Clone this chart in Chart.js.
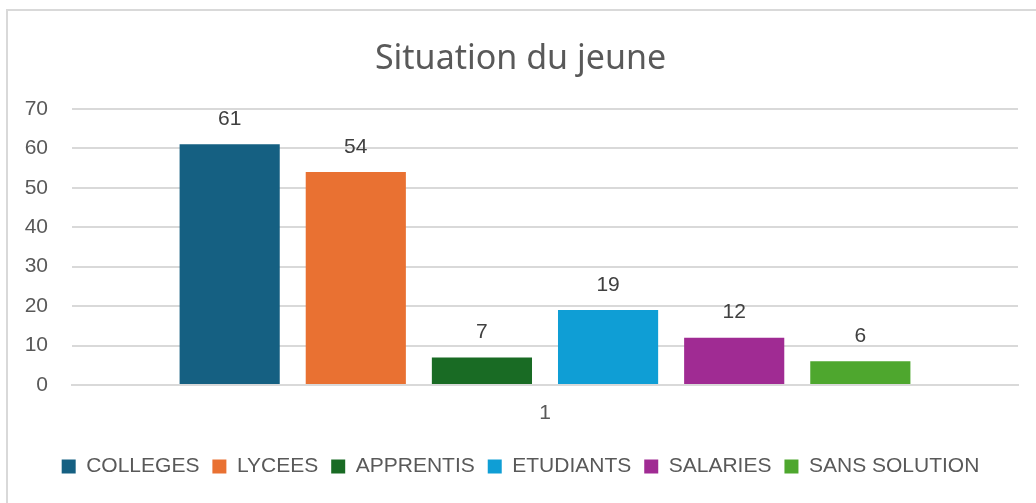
<!DOCTYPE html>
<html>
<head>
<meta charset="utf-8">
<script src="https://cdn.jsdelivr.net/npm/chart.js@4"></script>
<style>
    html, body { margin: 0; padding: 0; background: #fff; overflow: hidden; }
    #wrap { position: relative; width: 1036px; height: 503px; }
    #cadre { position: absolute; left: 6px; top: 9px; width: 1100px; height: 600px; border: 2px solid #d9d9d9; box-sizing: border-box; }
    #report { position: absolute; left: 0; top: 0; }
</style>
</head>
<body>
<div id="wrap">
    <div id="cadre"></div>
    <canvas id="report" width="1036" height="503"></canvas>
</div>
<script>
// données
const categories = ['1'];
const series = ['COLLEGES', 'LYCEES', 'APPRENTIS', 'ETUDIANTS', 'SALARIES', 'SANS SOLUTION'];
const valeurs = [61, 54, 7, 19, 12, 6];
const couleurs = ['#156082', '#E97132', '#196B24', '#0F9ED5', '#A02B93', '#4EA72E'];

const police = "'Liberation Sans', Arial, sans-serif";

// étiquettes de valeur au-dessus des barres
const etiquettes = {
    id: 'etiquettes',
    afterDatasetsDraw(chart) {
        const ctx = chart.ctx;
        ctx.save();
        ctx.font = '21px ' + police;
        ctx.fillStyle = '#404040';
        ctx.textAlign = 'center';
        ctx.textBaseline = 'middle';
        chart.data.datasets.forEach((ds, i) => {
            chart.getDatasetMeta(i).data.forEach((bar, j) => {
                ctx.fillText(ds.data[j], bar.x, bar.y - 25);
            });
        });
        ctx.restore();
    }
};

const ctx = document.getElementById('report').getContext('2d');
new Chart(ctx, {
    type: 'bar',
    data: {
        labels: categories,
        datasets: series.map((nom, i) => ({
            label: nom,
            data: [valeurs[i]],
            backgroundColor: couleurs[i],
            borderWidth: 0,
            categoryPercentage: 0.8,
            barPercentage: 0.794
        }))
    },
    options: {
        responsive: false,
        animation: false,
        layout: { padding: { left: 23, right: 18, top: 0, bottom: 16 } },
        plugins: {
            title: {
                display: true,
                text: 'Situation du jeune',
                color: '#595959',
                font: { family: "'Noto Sans', sans-serif", size: 34, weight: 'normal' },
                padding: { top: 39, bottom: 29 }
            },
            legend: {
                position: 'bottom',
                labels: {
                    color: '#595959',
                    font: { family: police, size: 21 },
                    boxWidth: 14,
                    boxHeight: 14,
                    padding: 13
                }
            },
            tooltip: { enabled: false }
        },
        scales: {
            x: {
                grid: { display: false, drawTicks: false },
                border: { color: '#d9d9d9', width: 2 },
                ticks: { color: '#595959', font: { family: police, size: 21 }, padding: 16 },
                afterFit: function (scale) { scale.height = 58; }
            },
            y: {
                min: 0,
                max: 70,
                grid: { color: '#d9d9d9', lineWidth: 2, drawTicks: false },
                border: { display: false },
                ticks: { stepSize: 10, color: '#595959', font: { family: police, size: 21 }, padding: 24 },
                afterFit: function (scale) { scale.width = 49; }
            }
        }
    },
    plugins: [etiquettes]
});
</script>
</body>
</html>
